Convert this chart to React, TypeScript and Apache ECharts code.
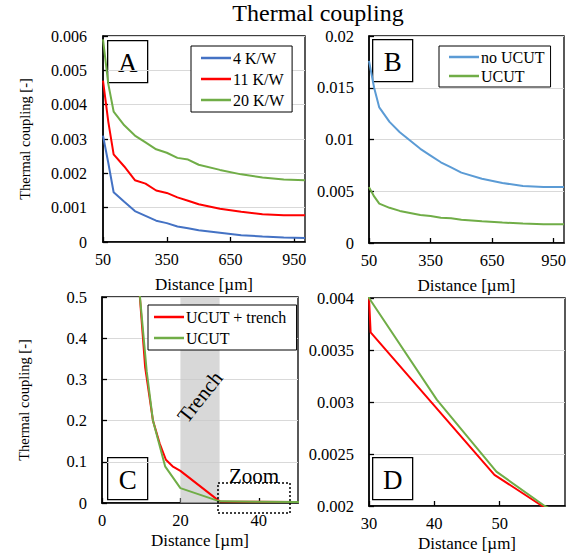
import React, { useEffect, useRef } from "react";
import * as echarts from "echarts";

const distA = [50, 75, 100, 150, 200, 250, 300, 350, 400, 450, 500, 600, 700, 800, 900, 1000];
const k4 = [0.0031, 0.0023, 0.00145, 0.00117, 0.0009, 0.00076, 0.00062, 0.00055, 0.00045, 0.0004, 0.00034, 0.00027, 0.0002, 0.00016, 0.00013, 0.00012];
const k11 = [0.0047, 0.0035, 0.00255, 0.0022, 0.0018, 0.0017, 0.0015, 0.00143, 0.0013, 0.0012, 0.0011, 0.00097, 0.00088, 0.00081, 0.00078, 0.00078];
const k20 = [0.0059, 0.0046, 0.0038, 0.0034, 0.0031, 0.0029, 0.0027, 0.0026, 0.00245, 0.0024, 0.00225, 0.0021, 0.00197, 0.00188, 0.00182, 0.0018];

const distB = [50, 75, 100, 150, 200, 250, 300, 350, 400, 450, 500, 600, 700, 800, 900, 1000];
const noUcutB = [0.0176, 0.015, 0.0131, 0.0117, 0.0107, 0.0099, 0.0091, 0.00845, 0.0078, 0.0073, 0.0068, 0.0062, 0.0058, 0.0055, 0.0054, 0.0054];
const ucutB = [0.0054, 0.0045, 0.0038, 0.0034, 0.0031, 0.0029, 0.0027, 0.0026, 0.00245, 0.0024, 0.00225, 0.0021, 0.00197, 0.00188, 0.00182, 0.0018];

const distTrench = [9.5, 11, 13, 14.7, 16.3, 18, 20, 30, 30.25, 49.2, 56.5, 60];
const ucutTrench = [0.52, 0.33, 0.2, 0.145, 0.105, 0.089, 0.078, 0.004, 0.00367, 0.0023, 0.002, 0.0019];
const distUcut = [9.5, 11.4, 13, 16.1, 20, 30, 40.4, 49.5, 56.9, 60];
const ucutC = [0.52, 0.32, 0.2, 0.089, 0.036, 0.004, 0.00302, 0.00233, 0.002, 0.0019];

const FONT = '"Liberation Serif", "Times New Roman", serif';
const zip = (xs: number[], ys: number[]) => xs.map((x, i) => [x, ys[i]]);

const BLUE = "#4472c4";
const RED = "#ff0000";
const GREEN = "#70ad47";
const LBLUE = "#5b9bd5";

const txt = (size: number) => ({ fontFamily: FONT, fontSize: size, fontWeight: "normal", fontStyle: "normal", color: "#000" });

function xAxis(gridIndex: number, min: number, max: number, interval: number, name: string, gap: number, size: number) {
  return {
    type: "value", gridIndex, min, max, interval, name, nameLocation: "middle", nameGap: gap,
    nameTextStyle: txt(17),
    axisLine: { show: true, onZero: false, lineStyle: { color: "#000", width: 1.5 } },
    axisTick: { show: true, inside: true, length: 5, lineStyle: { color: "#000", width: 1.3 } },
    axisLabel: { ...txt(size), margin: 9, showMaxLabel: false },
    splitLine: { show: false },
  };
}
function yAxis(gridIndex: number, min: number, max: number, interval: number, name: string, size: number, margin: number) {
  return {
    type: "value", gridIndex, min, max, interval, name, nameLocation: "middle", nameGap: 71,
    nameTextStyle: txt(14.5),
    axisLine: { show: true, lineStyle: { color: "#000", width: 1.5 } },
    axisTick: { show: true, inside: true, length: 5, lineStyle: { color: "#000", width: 1.3 } },
    axisLabel: { ...txt(size), margin },
    splitLine: { show: true, lineStyle: { color: "#d9d9d9", width: 1.2 } },
  };
}
function line(name: string, xi: number, data: number[][], color: string, extra: any = {}) {
  return {
    type: "line", name, xAxisIndex: xi, yAxisIndex: xi, data, symbol: "none", showSymbol: false,
    lineStyle: { color, width: 2 }, itemStyle: { color }, clip: true, z: 3, ...extra,
  };
}
function legend(data: string[], left: number, top: number, gap: number, pad: number[]) {
  return {
    data, left, top, orient: "vertical", borderColor: "#000", borderWidth: 1, padding: pad,
    itemGap: gap, itemWidth: 30, itemHeight: 2.5, icon: "rect", backgroundColor: "#fff",
    textStyle: { ...txt(16), padding: [0, 0, 0, -3] },
  };
}
function letterBox(ch: string, x: number, y: number) {
  return {
    type: "group", left: x, top: y, z: 100,
    children: [
      { type: "rect", shape: { x: 0, y: 0, width: 40, height: 42 }, style: { fill: "#fff", stroke: "#000", lineWidth: 1.3 } },
      { type: "text", x: 20, y: 22, style: { text: ch, fontFamily: FONT, fontWeight: "normal", fontSize: 27, fill: "#000", align: "center", verticalAlign: "middle" } },
    ],
  };
}

export default function App() {
  const ref = useRef<HTMLDivElement>(null);
  useEffect(() => {
    if (!ref.current) return;
    const chart = echarts.init(ref.current, undefined, { renderer: "svg" });
    const gridBase = { show: true, borderColor: "#000", borderWidth: 1.3, backgroundColor: "transparent" };
    chart.setOption({
      animation: false,
      textStyle: { fontFamily: FONT },
      title: {
        text: "Thermal coupling", left: 318, top: 0, textAlign: "center", padding: 0,
        textStyle: { ...txt(24), lineHeight: 26.5 },
      },
      grid: [
        { ...gridBase, left: 103, top: 36, width: 202, height: 206 },
        { ...gridBase, left: 369, top: 36, width: 195, height: 207 },
        { ...gridBase, left: 102, top: 297, width: 196, height: 206 },
        { ...gridBase, left: 369, top: 298, width: 196, height: 208 },
      ],
      xAxis: [
        xAxis(0, 50, 1000, 300, "Distance [µm]", 34, 16),
        xAxis(1, 50, 1000, 300, "Distance [µm]", 34, 16.5),
        xAxis(2, 0, 50, 20, "Distance [µm]", 29, 16.5),
        xAxis(3, 30, 60, 10, "Distance [µm]", 29, 16.5),
      ],
      yAxis: [
        yAxis(0, 0, 0.006, 0.001, "Thermal coupling [-]", 16, 16),
        { ...yAxis(1, 0, 0.02, 0.005, "", 16.5, 15), name: "" },
        yAxis(2, 0, 0.5, 0.1, "Thermal coupling [-]", 16.5, 15),
        { ...yAxis(3, 0.002, 0.004, 0.0005, "", 16.5, 15), name: "" },
      ],
      legend: [
        legend(["4 K/W", "11 K/W", "20 K/W"], 191, 46, 5, [4, 8, 4, 10]),
        legend(["no UCUT", "UCUT"], 439, 46, 3, [3, 6, 3, 10]),
        legend(["UCUT + trench", "UCUT "], 148, 305, 5, [4, 10, 4, 6]),
      ],
      series: [
        line("4 K/W", 0, zip(distA, k4), BLUE),
        line("11 K/W", 0, zip(distA, k11), RED),
        line("20 K/W", 0, zip(distA, k20), GREEN),
        line("no UCUT", 1, zip(distB, noUcutB), LBLUE),
        line("UCUT", 1, zip(distB, ucutB), GREEN),
        line("UCUT + trench", 2, zip(distTrench, ucutTrench), RED, {
          markArea: { silent: true, z: 1, itemStyle: { color: "rgba(200,200,200,0.7)" }, data: [[{ xAxis: 20 }, { xAxis: 30 }]] },
        }),
        line("UCUT ", 2, zip(distUcut, ucutC), GREEN),
        line("UCUT + trench", 3, zip(distTrench, ucutTrench), RED),
        line("UCUT ", 3, zip(distUcut, ucutC), GREEN),
      ],
      graphic: [
        letterBox("A", 107, 40),
        letterBox("B", 372, 39),
        letterBox("C", 107, 457),
        letterBox("D", 372, 457),
        {
          type: "text", x: 200, y: 397, rotation: 0.9, z: 50,
          style: { text: "Trench", fontFamily: FONT, fontWeight: "normal", fontSize: 21, fill: "#000", align: "center", verticalAlign: "middle" },
        },
        {
          type: "text", x: 254, y: 476, z: 50,
          style: { text: "Zoom", fontFamily: FONT, fontWeight: "normal", fontSize: 21, fill: "#000", align: "center", verticalAlign: "middle" },
        },
        {
          type: "rect", z: 50, shape: { x: 218, y: 483, width: 72, height: 30 },
          style: { fill: "none", stroke: "#000", lineWidth: 1.5, lineDash: [2, 2] },
        },
      ],
    });
    return () => chart.dispose();
  }, []);
  return <div ref={ref} style={{ position: "fixed", left: 0, top: 0, width: 585, height: 554, background: "#fff" }} />;
}
